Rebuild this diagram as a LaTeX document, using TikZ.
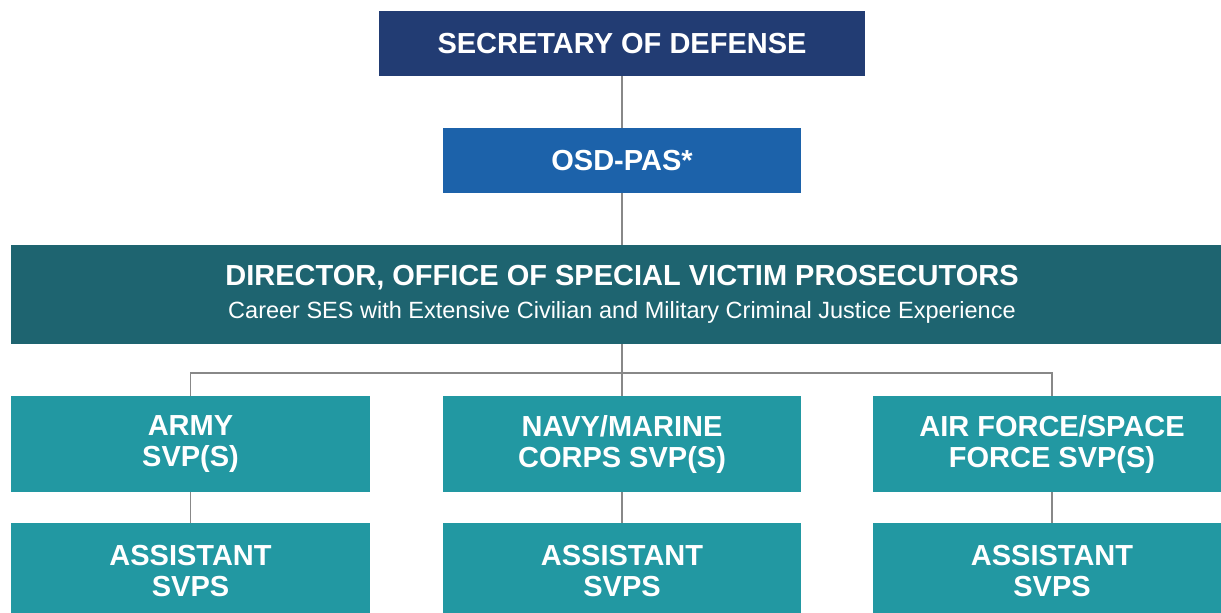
\documentclass[tikz,border=0pt]{standalone}
\usepackage{fontspec}
\setmainfont{Liberation Sans}
\usepackage{xcolor}
\definecolor{secnavy}{RGB}{34,60,115}
\definecolor{osdblue}{RGB}{28,98,170}
\definecolor{dirteal}{RGB}{30,100,112}
\definecolor{svpteal}{RGB}{34,152,162}
\definecolor{linegray}{RGB}{136,136,136}

\begin{document}
\begin{tikzpicture}[x=1pt,y=-1pt,
    orgbox/.style={text=white,inner sep=0pt,align=center,
      font=\fontsize{29}{31}\selectfont\bfseries},
    link/.style={draw=linegray,line width=1.6pt}]
        \useasboundingbox (0,0) rectangle (1221,613);
        \clip (0,0) rectangle (1221,613);
        % top of the chart
        \node[orgbox,fill=secnavy,minimum width=486pt,minimum height=65pt] (sec) at (622,43.5) {SECRETARY OF DEFENSE};
        \node[orgbox,fill=osdblue,minimum width=358pt,minimum height=65pt] (osd) at (622,160.5) {OSD-PAS*};
        \node[orgbox,fill=dirteal,minimum width=1222pt,minimum height=99pt] (dir) at (622,294.5)
          {DIRECTOR, OFFICE OF SPECIAL VICTIM PROSECUTORS\\[2pt]
           {\fontsize{23.5}{25}\selectfont\mdseries Career SES with Extensive Civilian and Military Criminal Justice Experience}};
        % service SVPs
        \node[orgbox,fill=svpteal,minimum width=359pt,minimum height=96pt] (army) at (190.5,444) {ARMY\\SVP(S)};
        \node[orgbox,fill=svpteal,minimum width=358pt,minimum height=96pt] (navy) at (622,444) {NAVY/MARINE\\CORPS SVP(S)};
        \node[orgbox,fill=svpteal,minimum width=358pt,minimum height=96pt] (air) at (1052,444) {AIR FORCE/SPACE\\FORCE SVP(S)};
        % assistants
        \node[orgbox,fill=svpteal,minimum width=359pt,minimum height=96pt] (armyasst) at (190.5,571) {ASSISTANT\\SVPS};
        \node[orgbox,fill=svpteal,minimum width=358pt,minimum height=96pt] (navyasst) at (622,571) {ASSISTANT\\SVPS};
        \node[orgbox,fill=svpteal,minimum width=358pt,minimum height=96pt] (airasst) at (1052,571) {ASSISTANT\\SVPS};
        % connectors
        \coordinate (bus) at (622,373);
        \draw[link] (sec) -- (osd);
        \draw[link] (osd) -- (dir);
        \draw[link] (dir) -- (navy);
        \draw[link] (army.north) |- (bus) -| (air.north);
        \draw[link] (army) -- (armyasst);
        \draw[link] (navy) -- (navyasst);
        \draw[link] (air) -- (airasst);
    \end{tikzpicture}
\end{document}
